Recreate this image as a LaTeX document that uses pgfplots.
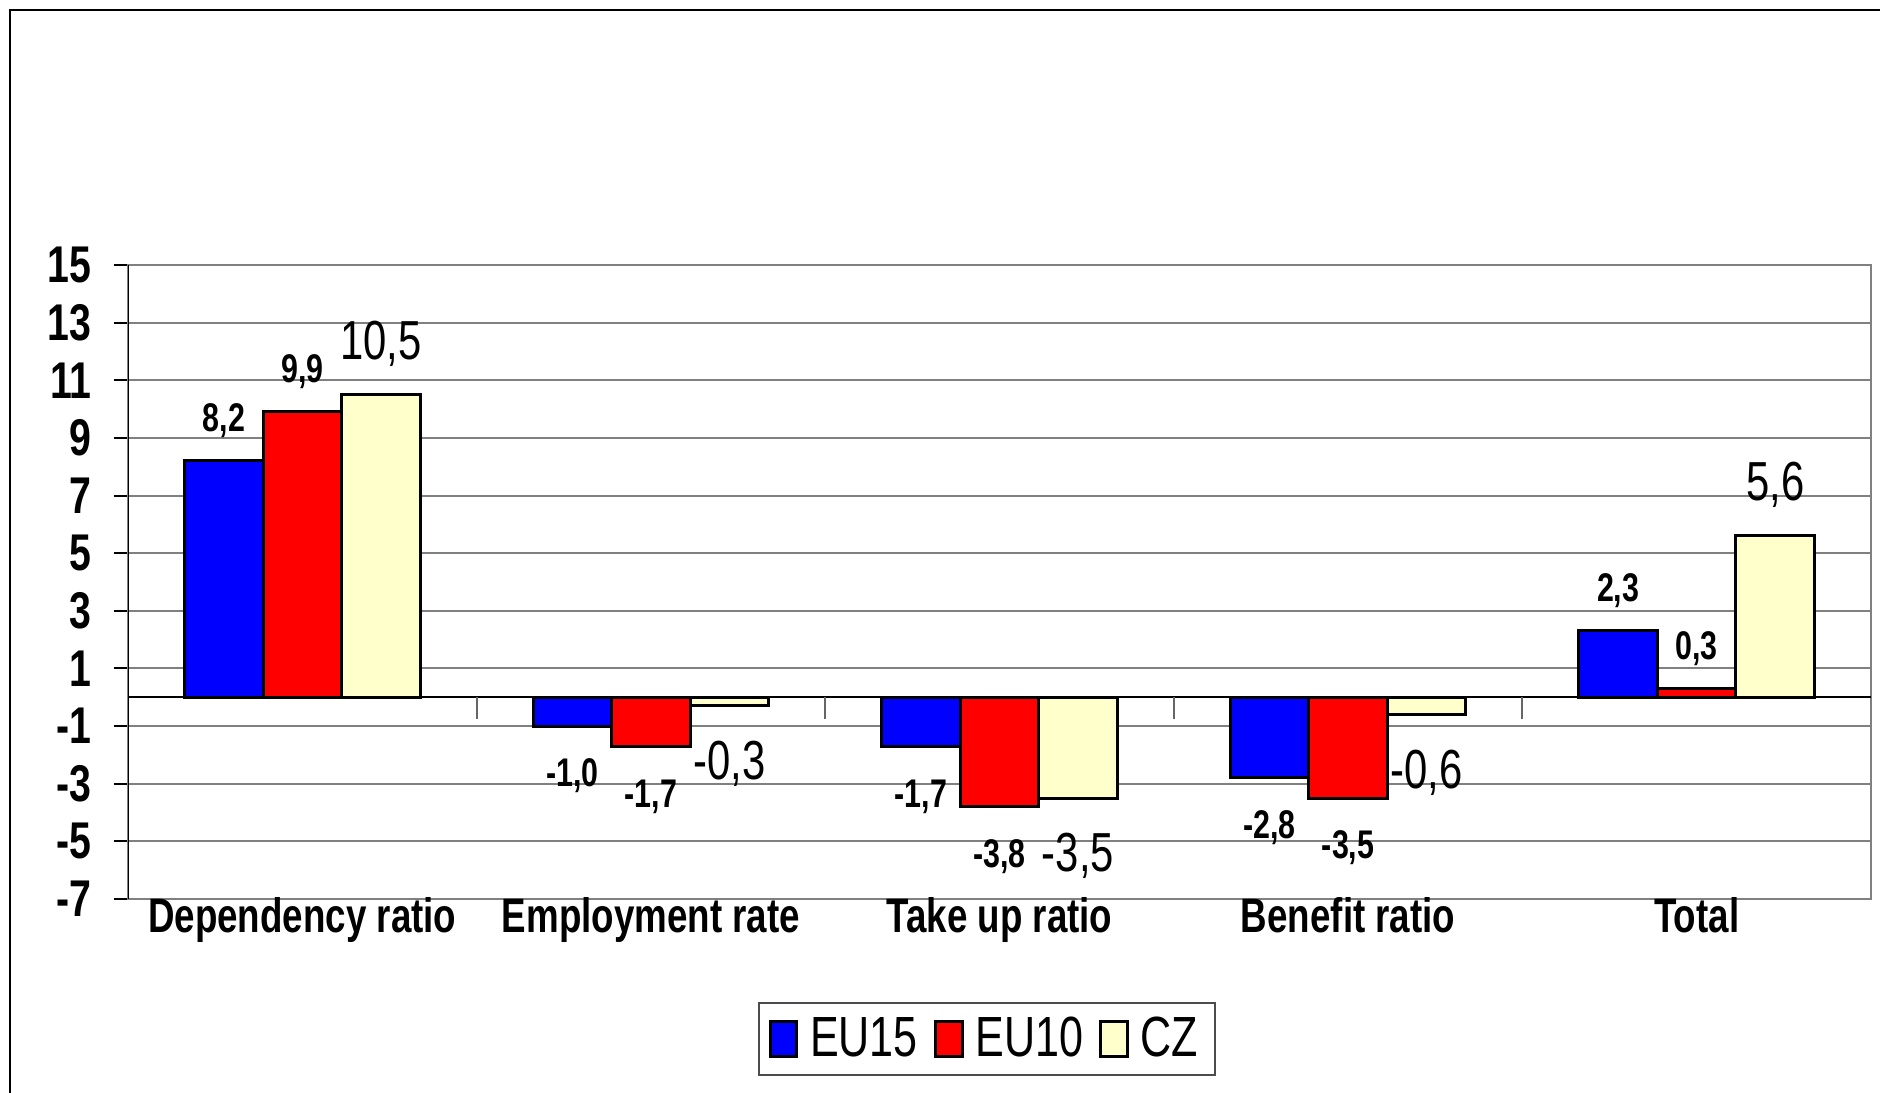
\documentclass[border=0pt]{standalone}
\usepackage{pgfplots}
\pgfplotsset{compat=1.18}
\usepackage{fontspec}
\setmainfont{Liberation Sans}[FakeStretch=0.76]

\definecolor{euf}{RGB}{0,0,255}
\definecolor{eut}{RGB}{255,0,0}
\definecolor{cz}{RGB}{255,255,204}

\begin{document}
\begin{tikzpicture}
\useasboundingbox (0,0) rectangle (564pt,327.9pt);
% outer chart frame (right and bottom lie off the page)
\draw[line width=0.8pt] (3pt,-20pt) -- (3pt,324.9pt) -- (600pt,324.9pt);
\begin{axis}[
  at={(38.4pt,58.2pt)}, anchor=south west,
  scale only axis, width=522.9pt, height=190.2pt,
  ybar=0pt, bar width=23.55pt,
  xmin=-0.5, xmax=4.5, ymin=-7, ymax=15,
  xtick=data,
  xticklabels={Dependency ratio, Employment rate, Take up ratio, Benefit ratio, Total},
  xtick style={draw=none},
  xticklabel style={font=\bfseries\fontsize{14.5}{14.5}\selectfont, inner sep=0.5pt, yshift=5.5pt},
  ytick={-7,-5,...,15},
  ytick pos=left, tick align=outside, major tick length=4.2pt,
  ytick style={black, line width=0.6pt},
  yticklabel style={font=\bfseries\fontsize{15.5}{15.5}\selectfont, inner sep=0pt, xshift=-6.5pt},
  /pgf/number format/assume math mode=true,
  ymajorgrids, major grid style={black!50, line width=0.6pt},
  axis line style={black!50, line width=0.6pt},
  nodes near coords={\pgfmathprintnumber[fixed,fixed zerofill,precision=1,use comma,assume math mode=true]{\pgfplotspointmeta}},
  nodes near coords align={vertical},
  every node near coord/.append style={font=\bfseries\fontsize{12}{12}\selectfont,
    inner sep=6.5pt, text height=11.3pt, black},
  legend style={at={(0.4927,-0.221)}, anchor=center, legend columns=3,
    draw=black!70, line width=0.6pt, inner xsep=3pt, inner ysep=2pt,
    font=\fontsize{17}{17}\selectfont,
    /tikz/every odd column/.append style={column sep=1.5pt},
    /tikz/every even column/.append style={column sep=2.9pt}},
  legend image code/.code={\draw[#1, line width=0.9pt] (0pt,-5.3pt) rectangle (8pt,5.3pt);},
  ]
\addplot[fill=euf, draw=black, line width=0.9pt]
  coordinates {(0,8.2) (1,-1.0) (2,-1.7) (3,-2.8) (4,2.3)};
\addplot[fill=eut, draw=black, line width=0.9pt]
  coordinates {(0,9.9) (1,-1.7) (2,-3.8) (3,-3.5) (4,0.3)};
\addplot[fill=cz, draw=black, line width=0.9pt,
  every node near coord/.append style={font=\fontsize{16.5}{16.5}\selectfont,
    inner sep=8pt, text height=13.6pt}]
  coordinates {(0,10.5) (1,-0.3) (2,-3.5) (3,-0.6) (4,5.6)};
\legend{EU15, EU10, CZ}
\draw[black, line width=0.7pt] (axis cs:-0.5,0) -- (axis cs:4.5,0);
\pgfplotsinvokeforeach{0.5,1.5,2.5,3.5}{
  \draw[black!60, line width=0.6pt] (axis cs:#1,0) -- ++(0pt,-6.6pt);
}
\draw[black, line width=0.7pt] (rel axis cs:0,0) -- (rel axis cs:0,1);
\end{axis}
\end{tikzpicture}
\end{document}
